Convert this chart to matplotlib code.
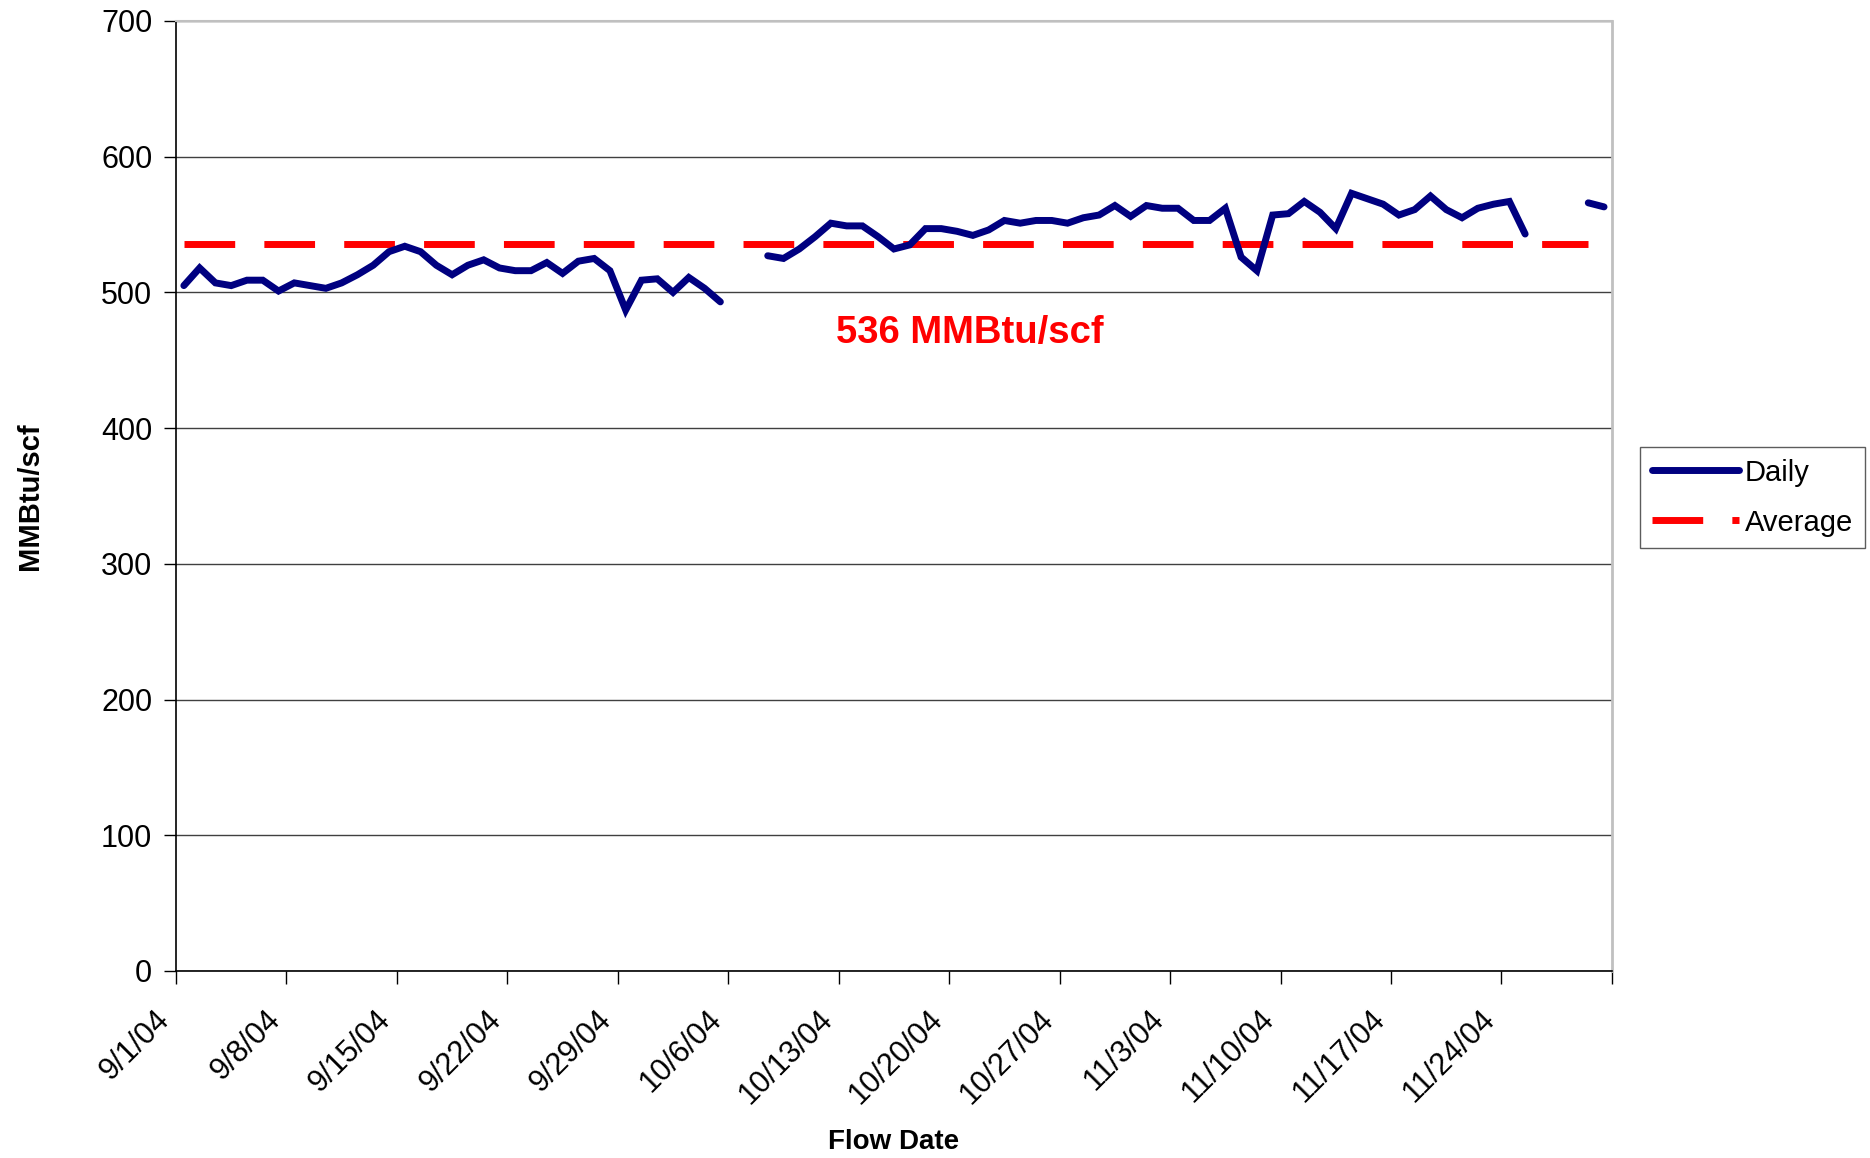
import numpy as np
import matplotlib
matplotlib.use("Agg")
import matplotlib.pyplot as plt

plt.rcParams['font.family'] = ['Liberation Sans', 'DejaVu Sans']

# tick labels (weekly, from 9/1/04)
tick_labels = ['9/1/04', '9/8/04', '9/15/04', '9/22/04', '9/29/04', '10/6/04',
               '10/13/04', '10/20/04', '10/27/04', '11/3/04', '11/10/04',
               '11/17/04', '11/24/04']

# daily values 9/1/04 .. 11/30/04 (nan = no data)
daily = [505, 518, 507, 505, 509, 509, 501, 507, 505, 503,
         507, 513, 520, 530, 534, 530, 520, 513, 520, 524,
         518, 516, 516, 522, 514, 523, 525, 516, 487, 509,
         510, 500, 511, 503, 493, np.nan, np.nan, 527, 525, 532,
         541, 551, 549, 549, 541, 532, 535, 547, 547, 545,
         542, 546, 553, 551, 553, 553, 551, 555, 557, 564,
         556, 564, 562, 562, 553, 553, 562, 526, 516, 557,
         558, 567, 559, 547, 573, 569, 565, 557, 561, 571,
         561, 555, 562, 565, 567, 543, np.nan, np.nan, np.nan, 566,
         563]
average = 536
n_avg = 90

daily = np.array(daily, dtype=float)
x = np.arange(len(daily)) + 0.5
x_avg = np.arange(n_avg) + 0.5

fig = plt.figure(figsize=(18.7, 11.58), dpi=100)
ax = fig.add_axes([0.0941, 0.1615, 0.862 - 0.0941, 0.9819 - 0.1615])

ax.plot(x, daily, color='#000080', lw=5, solid_capstyle='round',
        solid_joinstyle='miter', label='Daily', zorder=3)
ax.plot(x_avg, [average] * n_avg, color='#FF0000', lw=5,
        dashes=(7.3, 4.2), dash_capstyle='butt', label='Average', zorder=2)

ax.text(50.3, 470, '536 MMBtu/scf', color='#FF0000', fontsize=27.5,
        fontweight='bold', ha='center', va='center')

ax.set_xlim(0, 91)
ax.set_ylim(0, 700)
ax.set_yticks(np.arange(0, 701, 100))
ax.set_xticks(np.arange(0, 92, 7))
ax.set_xticklabels(tick_labels + [''], rotation=45, ha='right')
ax.tick_params(axis='both', direction='out', length=9, width=1,
               labelsize=22, color='black')
ax.tick_params(axis='y', pad=8)
ax.tick_params(axis='x', pad=15)

ax.grid(axis='y', color='#404040', lw=1)
ax.set_axisbelow(True)
for s in ['left', 'bottom']:
    ax.spines[s].set_color('black')
    ax.spines[s].set_linewidth(1.2)
ax.spines['right'].set_color('#c0c0c0')
ax.spines['right'].set_linewidth(2)
ax.spines['top'].set_color('#c0c0c0')
ax.spines['top'].set_linewidth(1.5)

ax.set_ylabel('MMBtu/scf', fontsize=21, fontweight='bold')
ax.set_xlabel('Flow Date', fontsize=20, fontweight='bold')
ax.yaxis.set_label_coords(-0.092, 0.5)
ax.xaxis.set_label_coords(0.5, -0.166)

leg = fig.legend(loc='upper left', bbox_to_anchor=(0.877, 0.614),
                 bbox_transform=fig.transFigure, fontsize=21, frameon=True,
                 fancybox=False, edgecolor='#333333', handlelength=3.0,
                 borderaxespad=0, handletextpad=0.2, borderpad=0.4,
                 labelspacing=0.75)
leg.get_frame().set_linewidth(1)

fig.savefig('out.png', dpi=100)
